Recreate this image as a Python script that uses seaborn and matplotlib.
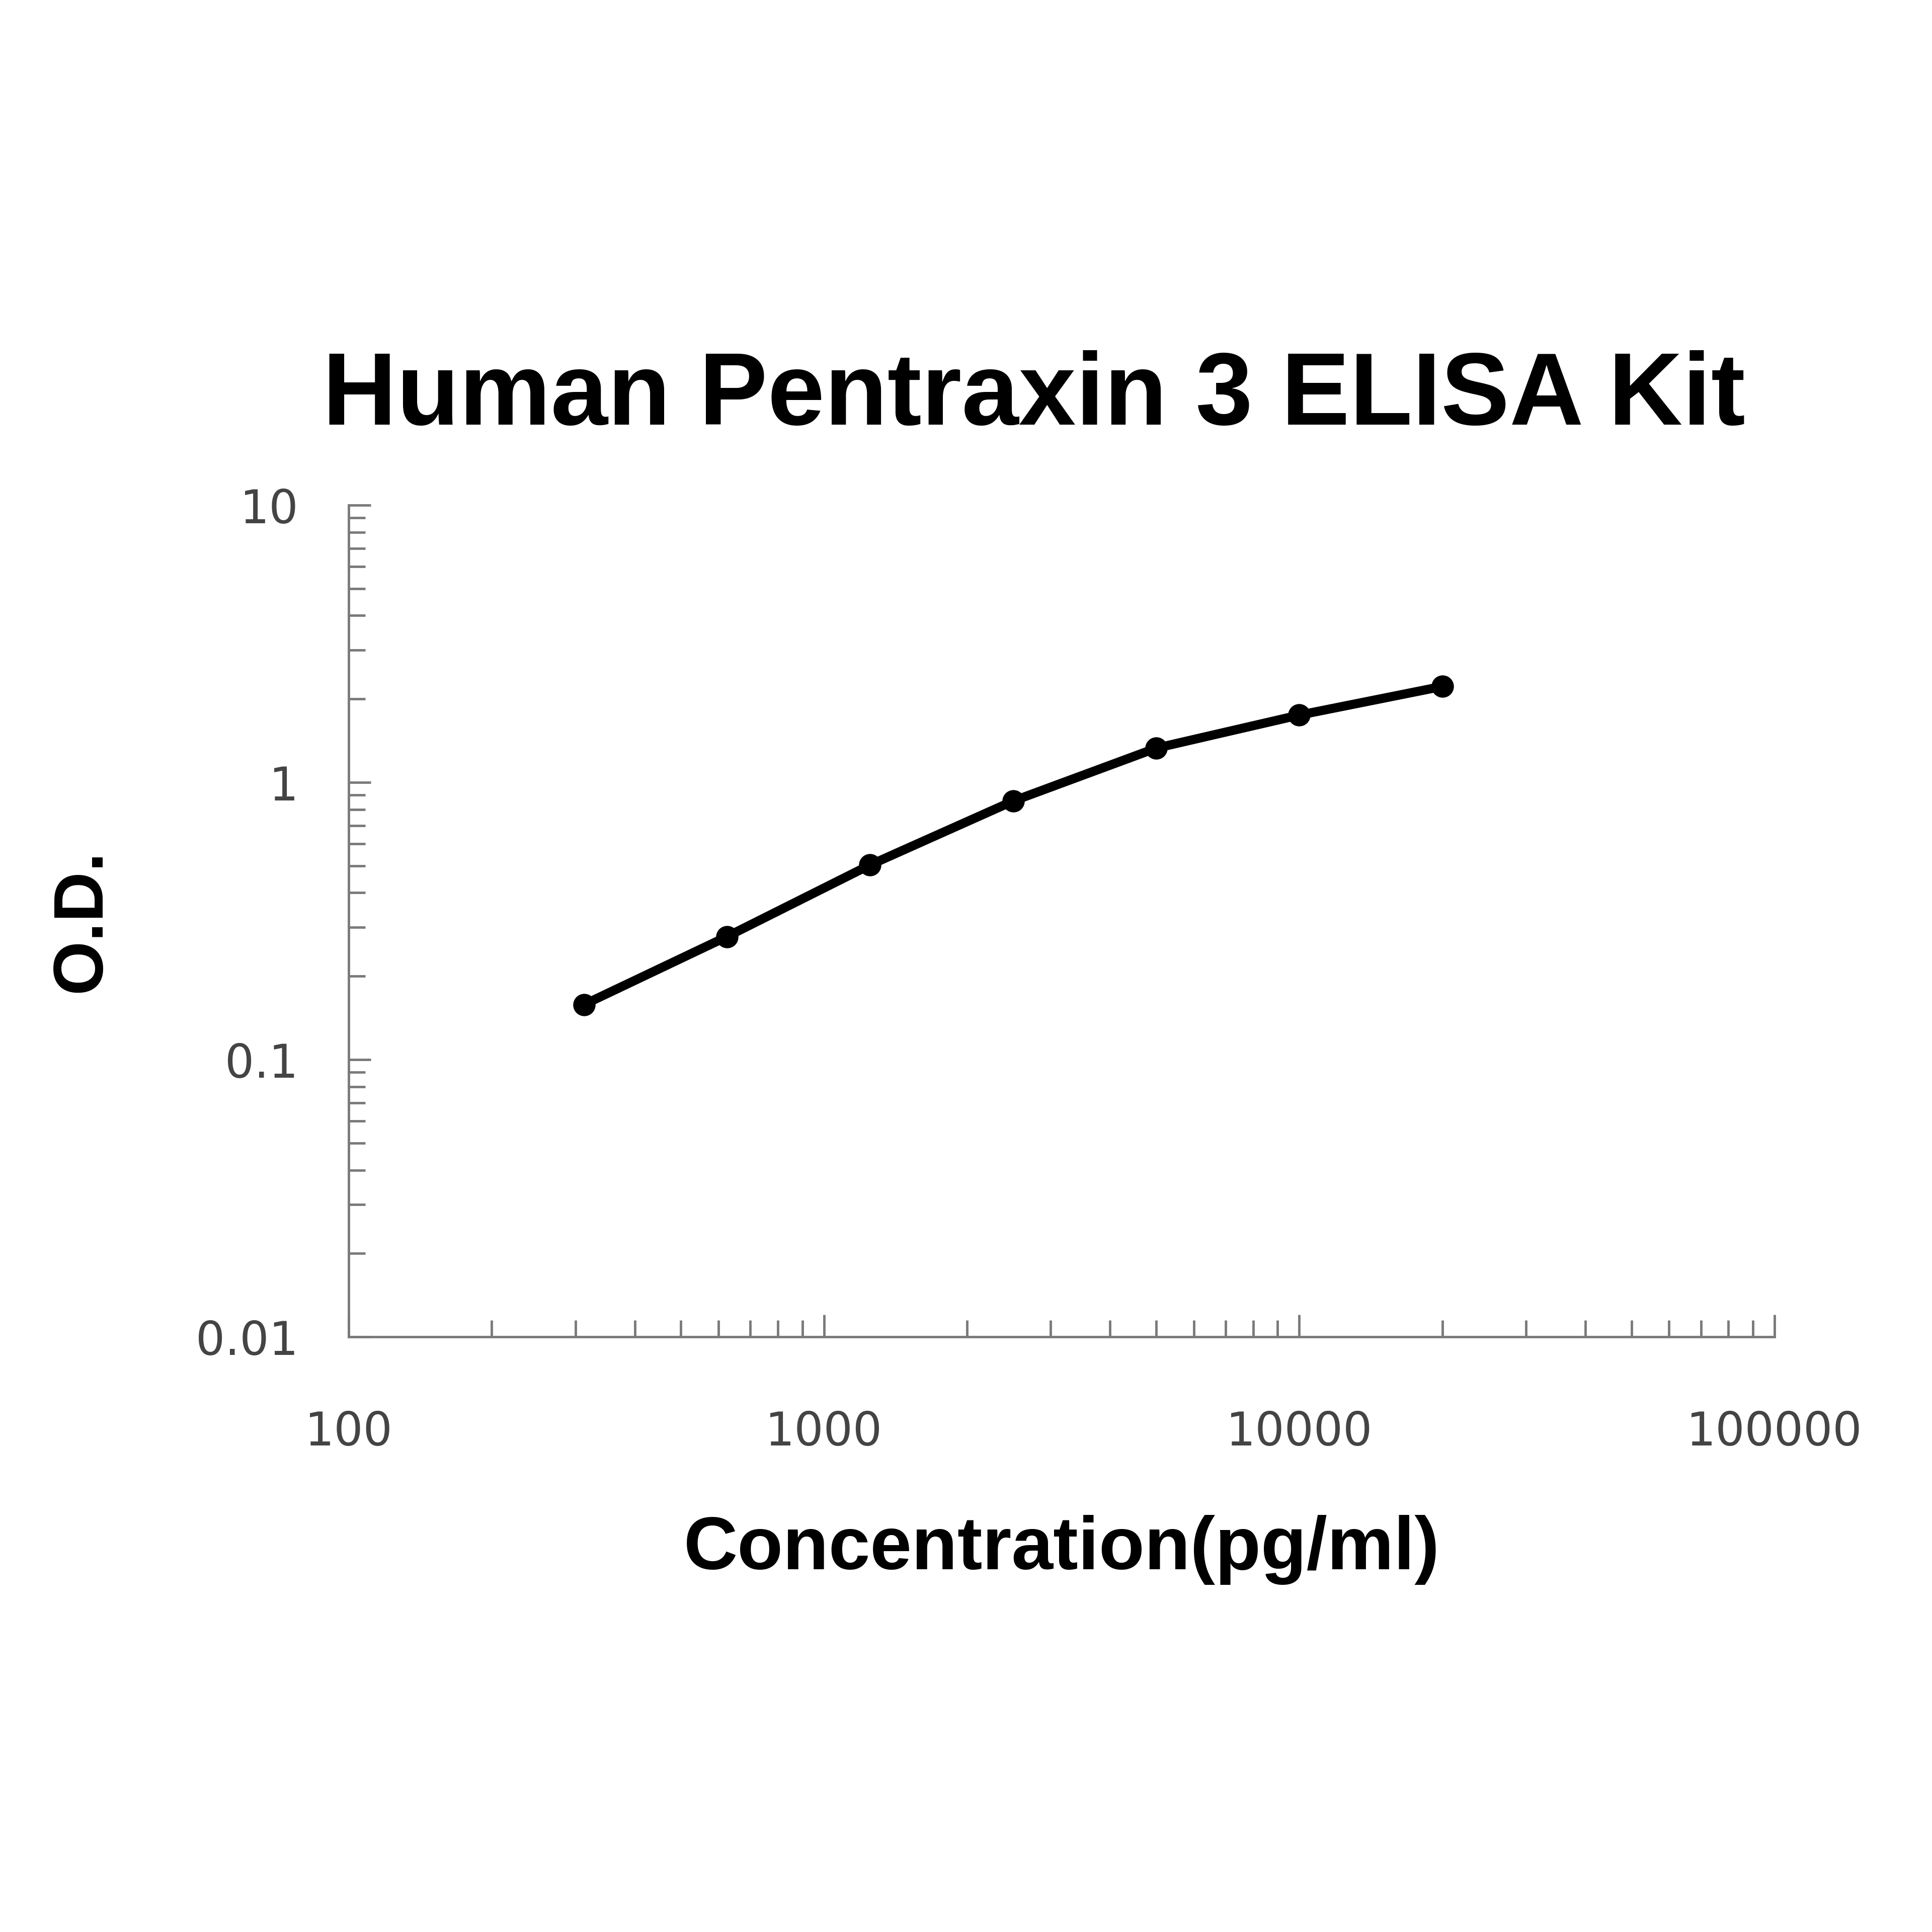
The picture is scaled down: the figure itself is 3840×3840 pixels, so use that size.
import matplotlib
matplotlib.use('Agg')
import matplotlib.pyplot as plt
import matplotlib.ticker as mticker
import pandas as pd
import seaborn as sns

# Standard curve values
concentration = [312.5, 625, 1250, 2500, 5000, 10000, 20000]
od = [0.158, 0.278, 0.504, 0.857, 1.33, 1.75, 2.22]

data = pd.DataFrame({'Concentration': concentration, 'OD': od})

sns.set_style('white')
plt.rcParams['font.family'] = ['Liberation Sans', 'DejaVu Sans']

fig = plt.figure(figsize=(38.4, 38.4), dpi=100)
ax = fig.add_axes([0.1805, 0.308, 0.738, 0.4305])

sns.lineplot(data=data, x='Concentration', y='OD', ax=ax, color='black',
             linewidth=13, marker='o', markersize=32, markeredgewidth=0)

ax.set_xscale('log')
ax.set_yscale('log')
ax.set_xlim(100, 100000)
ax.set_ylim(0.01, 10)

ax.xaxis.set_major_locator(mticker.LogLocator(base=10))
ax.yaxis.set_major_locator(mticker.LogLocator(base=10))
ax.xaxis.set_minor_locator(mticker.LogLocator(base=10, subs=range(2, 10)))
ax.yaxis.set_minor_locator(mticker.LogLocator(base=10, subs=range(2, 10)))
ax.xaxis.set_minor_formatter(mticker.NullFormatter())
ax.yaxis.set_minor_formatter(mticker.NullFormatter())
ax.xaxis.set_major_formatter(mticker.FuncFormatter(lambda v, p: f'{v:g}'))
ax.yaxis.set_major_formatter(mticker.FuncFormatter(lambda v, p: f'{v:g}'))

for side in ['top', 'right']:
    ax.spines[side].set_visible(False)
for side in ['left', 'bottom']:
    ax.spines[side].set_color('#7a7a7a')
    ax.spines[side].set_linewidth(3.5)

ax.tick_params(axis='both', which='both', direction='in', color='#7a7a7a',
               width=3.5, labelcolor='#444444', labelsize=66,
               bottom=True, left=True, top=False, right=False)
ax.tick_params(axis='both', which='major', length=32)
ax.tick_params(axis='both', which='minor', length=24)
ax.tick_params(axis='y', which='major', pad=72)
ax.tick_params(axis='x', which='major', pad=104)
for lbl in ax.get_xticklabels() + ax.get_yticklabels():
    lbl.set_family(['DejaVu Sans'])

ax.set_title('Human Pentraxin 3 ELISA Kit', fontsize=147, fontweight='bold',
             color='black', pad=115, x=0.4806)
ax.set_xlabel('Concentration(pg/ml)', fontsize=107, fontweight='bold',
              color='black', labelpad=86)
ax.set_ylabel('O.D.', fontsize=100, fontweight='bold', color='black', labelpad=116)

fig.savefig('out.png', dpi=100, facecolor='white')
